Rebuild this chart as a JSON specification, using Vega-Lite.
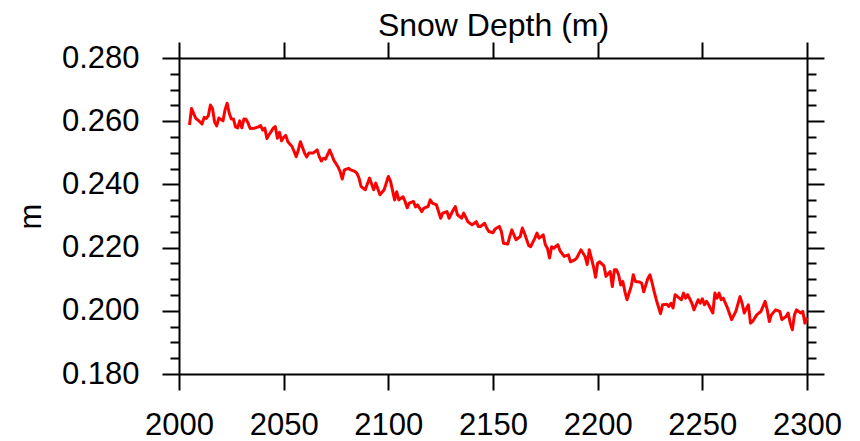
{
  "$schema": "https://vega.github.io/schema/vega-lite/v6.json",
  "width": 628,
  "height": 316,
  "autosize": {"type": "none"},
  "padding": {"left": 179, "top": 58, "right": 52, "bottom": 67},
  "background": "white",
  "config": {
    "view": {"stroke": null},
    "font": "Liberation Sans",
    "axis": {
      "grid": false,
      "domainColor": "black",
      "domainWidth": 2,
      "tickColor": "black",
      "tickWidth": 2,
      "labelColor": "black",
      "labelFont": "Liberation Sans",
      "labelFontSize": 31,
      "titleFont": "Liberation Sans",
      "titleFontSize": 31,
      "titleFontWeight": "normal",
      "titleColor": "black",
      "labelOverlap": false,
      "labelFlush": false
    }
  },
  "data": {
    "values": [
      {"year": 2005, "depth": 0.2588}, {"year": 2006, "depth": 0.2640}, {"year": 2008, "depth": 0.2609},
      {"year": 2009, "depth": 0.2604}, {"year": 2011, "depth": 0.2591}, {"year": 2012, "depth": 0.2612},
      {"year": 2013, "depth": 0.2609}, {"year": 2014, "depth": 0.2617}, {"year": 2015, "depth": 0.2651},
      {"year": 2016, "depth": 0.2640}, {"year": 2017, "depth": 0.2598}, {"year": 2018, "depth": 0.2585},
      {"year": 2019, "depth": 0.2610}, {"year": 2021, "depth": 0.2601}, {"year": 2022, "depth": 0.2636},
      {"year": 2023, "depth": 0.2657}, {"year": 2024, "depth": 0.2625}, {"year": 2025, "depth": 0.2607},
      {"year": 2026, "depth": 0.2607}, {"year": 2027, "depth": 0.2582}, {"year": 2028, "depth": 0.2579},
      {"year": 2029, "depth": 0.2601}, {"year": 2030, "depth": 0.2579}, {"year": 2031, "depth": 0.2607},
      {"year": 2032, "depth": 0.2606}, {"year": 2033, "depth": 0.2594}, {"year": 2034, "depth": 0.2577},
      {"year": 2036, "depth": 0.2578}, {"year": 2038, "depth": 0.2582}, {"year": 2039, "depth": 0.2586},
      {"year": 2040, "depth": 0.2572}, {"year": 2041, "depth": 0.2578}, {"year": 2042, "depth": 0.2545},
      {"year": 2043, "depth": 0.2557}, {"year": 2044, "depth": 0.2567}, {"year": 2045, "depth": 0.2578},
      {"year": 2046, "depth": 0.2583}, {"year": 2047, "depth": 0.2546}, {"year": 2048, "depth": 0.2565},
      {"year": 2049, "depth": 0.2538}, {"year": 2050, "depth": 0.2549}, {"year": 2051, "depth": 0.2555},
      {"year": 2052, "depth": 0.2535}, {"year": 2054, "depth": 0.2520}, {"year": 2055, "depth": 0.2504},
      {"year": 2056, "depth": 0.2488}, {"year": 2057, "depth": 0.2509}, {"year": 2058, "depth": 0.2535},
      {"year": 2060, "depth": 0.2499}, {"year": 2061, "depth": 0.2487}, {"year": 2062, "depth": 0.2499},
      {"year": 2064, "depth": 0.2499}, {"year": 2066, "depth": 0.2509}, {"year": 2067, "depth": 0.2488},
      {"year": 2068, "depth": 0.2474}, {"year": 2069, "depth": 0.2483}, {"year": 2070, "depth": 0.2480},
      {"year": 2072, "depth": 0.2509}, {"year": 2073, "depth": 0.2493}, {"year": 2074, "depth": 0.2476},
      {"year": 2076, "depth": 0.2455}, {"year": 2077, "depth": 0.2440}, {"year": 2078, "depth": 0.2417},
      {"year": 2079, "depth": 0.2446}, {"year": 2081, "depth": 0.2451}, {"year": 2082, "depth": 0.2446},
      {"year": 2084, "depth": 0.2441}, {"year": 2085, "depth": 0.2435}, {"year": 2086, "depth": 0.2420},
      {"year": 2087, "depth": 0.2393}, {"year": 2089, "depth": 0.2383}, {"year": 2091, "depth": 0.2420},
      {"year": 2093, "depth": 0.2383}, {"year": 2094, "depth": 0.2404}, {"year": 2096, "depth": 0.2367},
      {"year": 2098, "depth": 0.2383}, {"year": 2100, "depth": 0.2425}, {"year": 2101, "depth": 0.2411},
      {"year": 2103, "depth": 0.2351}, {"year": 2104, "depth": 0.2377}, {"year": 2105, "depth": 0.2351},
      {"year": 2107, "depth": 0.2361}, {"year": 2108, "depth": 0.2346}, {"year": 2109, "depth": 0.2326},
      {"year": 2110, "depth": 0.2341}, {"year": 2112, "depth": 0.2346}, {"year": 2113, "depth": 0.2329},
      {"year": 2114, "depth": 0.2335}, {"year": 2116, "depth": 0.2314}, {"year": 2117, "depth": 0.2325},
      {"year": 2119, "depth": 0.2330}, {"year": 2120, "depth": 0.2351}, {"year": 2121, "depth": 0.2341},
      {"year": 2123, "depth": 0.2335}, {"year": 2125, "depth": 0.2293}, {"year": 2126, "depth": 0.2309},
      {"year": 2128, "depth": 0.2314}, {"year": 2129, "depth": 0.2293}, {"year": 2131, "depth": 0.2319},
      {"year": 2132, "depth": 0.2330}, {"year": 2133, "depth": 0.2304}, {"year": 2135, "depth": 0.2293},
      {"year": 2136, "depth": 0.2309}, {"year": 2138, "depth": 0.2282}, {"year": 2140, "depth": 0.2272},
      {"year": 2142, "depth": 0.2282}, {"year": 2143, "depth": 0.2267}, {"year": 2144, "depth": 0.2267},
      {"year": 2146, "depth": 0.2277}, {"year": 2147, "depth": 0.2262}, {"year": 2148, "depth": 0.2251},
      {"year": 2150, "depth": 0.2247}, {"year": 2151, "depth": 0.2259}, {"year": 2153, "depth": 0.2267},
      {"year": 2154, "depth": 0.2251}, {"year": 2155, "depth": 0.2214}, {"year": 2157, "depth": 0.2211},
      {"year": 2158, "depth": 0.2235}, {"year": 2159, "depth": 0.2256}, {"year": 2160, "depth": 0.2240},
      {"year": 2161, "depth": 0.2225}, {"year": 2163, "depth": 0.2235}, {"year": 2164, "depth": 0.2262},
      {"year": 2165, "depth": 0.2246}, {"year": 2167, "depth": 0.2207}, {"year": 2168, "depth": 0.2203},
      {"year": 2170, "depth": 0.2230}, {"year": 2171, "depth": 0.2246}, {"year": 2172, "depth": 0.2230},
      {"year": 2174, "depth": 0.2240}, {"year": 2175, "depth": 0.2209}, {"year": 2176, "depth": 0.2198},
      {"year": 2177, "depth": 0.2167}, {"year": 2178, "depth": 0.2203}, {"year": 2179, "depth": 0.2198},
      {"year": 2181, "depth": 0.2209}, {"year": 2182, "depth": 0.2190}, {"year": 2184, "depth": 0.2172},
      {"year": 2186, "depth": 0.2177}, {"year": 2187, "depth": 0.2155}, {"year": 2189, "depth": 0.2161},
      {"year": 2190, "depth": 0.2167}, {"year": 2192, "depth": 0.2193}, {"year": 2194, "depth": 0.2172},
      {"year": 2195, "depth": 0.2146}, {"year": 2196, "depth": 0.2193}, {"year": 2198, "depth": 0.2140},
      {"year": 2199, "depth": 0.2106}, {"year": 2200, "depth": 0.2151}, {"year": 2201, "depth": 0.2155},
      {"year": 2203, "depth": 0.2142}, {"year": 2204, "depth": 0.2109}, {"year": 2206, "depth": 0.2124},
      {"year": 2207, "depth": 0.2077}, {"year": 2208, "depth": 0.2130}, {"year": 2209, "depth": 0.2130},
      {"year": 2210, "depth": 0.2114}, {"year": 2211, "depth": 0.2082}, {"year": 2212, "depth": 0.2093},
      {"year": 2213, "depth": 0.2061}, {"year": 2214, "depth": 0.2035}, {"year": 2216, "depth": 0.2077},
      {"year": 2217, "depth": 0.2114}, {"year": 2218, "depth": 0.2093}, {"year": 2220, "depth": 0.2091},
      {"year": 2221, "depth": 0.2088}, {"year": 2222, "depth": 0.2060}, {"year": 2224, "depth": 0.2103},
      {"year": 2225, "depth": 0.2114}, {"year": 2226, "depth": 0.2088}, {"year": 2227, "depth": 0.2061},
      {"year": 2228, "depth": 0.2035}, {"year": 2230, "depth": 0.1991}, {"year": 2231, "depth": 0.2019},
      {"year": 2233, "depth": 0.2021}, {"year": 2234, "depth": 0.2014}, {"year": 2235, "depth": 0.2024},
      {"year": 2236, "depth": 0.2009}, {"year": 2237, "depth": 0.2051}, {"year": 2239, "depth": 0.2040},
      {"year": 2240, "depth": 0.2035}, {"year": 2241, "depth": 0.2056}, {"year": 2242, "depth": 0.2040},
      {"year": 2243, "depth": 0.2051}, {"year": 2245, "depth": 0.2024}, {"year": 2246, "depth": 0.2003},
      {"year": 2248, "depth": 0.2035}, {"year": 2249, "depth": 0.2024}, {"year": 2250, "depth": 0.2038},
      {"year": 2251, "depth": 0.2019}, {"year": 2252, "depth": 0.2030}, {"year": 2253, "depth": 0.2019},
      {"year": 2255, "depth": 0.1993}, {"year": 2256, "depth": 0.2056}, {"year": 2257, "depth": 0.2040},
      {"year": 2258, "depth": 0.2056}, {"year": 2259, "depth": 0.2035}, {"year": 2260, "depth": 0.2040},
      {"year": 2261, "depth": 0.2024}, {"year": 2262, "depth": 0.2009}, {"year": 2264, "depth": 0.1972},
      {"year": 2266, "depth": 0.1998}, {"year": 2268, "depth": 0.2045}, {"year": 2269, "depth": 0.2024},
      {"year": 2270, "depth": 0.1993}, {"year": 2272, "depth": 0.2019}, {"year": 2273, "depth": 0.1961},
      {"year": 2274, "depth": 0.1966}, {"year": 2276, "depth": 0.1987}, {"year": 2277, "depth": 0.1993},
      {"year": 2278, "depth": 0.1998}, {"year": 2280, "depth": 0.2030}, {"year": 2281, "depth": 0.2003},
      {"year": 2282, "depth": 0.1966}, {"year": 2283, "depth": 0.1987}, {"year": 2285, "depth": 0.2003},
      {"year": 2287, "depth": 0.1998}, {"year": 2288, "depth": 0.1972}, {"year": 2290, "depth": 0.1982},
      {"year": 2291, "depth": 0.1993}, {"year": 2292, "depth": 0.1961}, {"year": 2293, "depth": 0.1940},
      {"year": 2294, "depth": 0.1987}, {"year": 2295, "depth": 0.2003}, {"year": 2297, "depth": 0.1993},
      {"year": 2298, "depth": 0.1998}, {"year": 2299, "depth": 0.1961}, {"year": 2300, "depth": 0.1978}
    ]
  },
  "layer": [
    {
      "mark": {"type": "line", "color": "#ff0000", "strokeWidth": 3, "strokeJoin": "round"},
      "encoding": {
        "x": {
          "field": "year", "type": "quantitative",
          "scale": {"domain": [2000, 2300], "nice": false, "zero": false},
          "axis": {
            "orient": "bottom", "title": null,
            "values": [2000, 2050, 2100, 2150, 2200, 2250, 2300],
            "format": "d", "tickSize": 16, "labelPadding": 44, "labelBaseline": "alphabetic"
          }
        },
        "y": {
          "field": "depth", "type": "quantitative",
          "scale": {"domain": [0.18, 0.28], "nice": false, "zero": false},
          "axis": {
            "orient": "left",
            "values": [0.18, 0.185, 0.19, 0.195, 0.2, 0.205, 0.21, 0.215, 0.22, 0.225, 0.23, 0.235, 0.24, 0.245, 0.25, 0.255, 0.26, 0.265, 0.27, 0.275, 0.28],
            "tickSize": {"condition": {"test": "abs(datum.value*50 - round(datum.value*50)) < 0.01", "value": 17}, "value": 9},
            "labelExpr": "abs(datum.value*50 - round(datum.value*50)) < 0.01 ? format(datum.value, '.3f') : ''",
            "labelPadding": 23,
            "title": "m",
            "titleX": -139, "titleY": 158, "titleAngle": -90, "titleAlign": "center", "titleBaseline": "alphabetic"
          }
        }
      }
    },
    {
      "mark": {"type": "point", "opacity": 0},
      "encoding": {
        "x": {
          "field": "year", "type": "quantitative",
          "scale": {"domain": [2000, 2300], "nice": false, "zero": false},
          "axis": {
            "orient": "top",
            "values": [2000, 2050, 2100, 2150, 2200, 2250, 2300],
            "format": "d", "tickSize": 16, "labelPadding": 43, "labelBaseline": "alphabetic",
            "title": "Snow Depth (m)", "titleFontSize": 32, "titleY": -23, "titleBaseline": "alphabetic", "titleAlign": "center"
          }
        },
        "y": {
          "field": "depth", "type": "quantitative",
          "scale": {"domain": [0.18, 0.28], "nice": false, "zero": false},
          "axis": {
            "orient": "right",
            "values": [0.18, 0.185, 0.19, 0.195, 0.2, 0.205, 0.21, 0.215, 0.22, 0.225, 0.23, 0.235, 0.24, 0.245, 0.25, 0.255, 0.26, 0.265, 0.27, 0.275, 0.28],
            "tickSize": {"condition": {"test": "abs(datum.value*50 - round(datum.value*50)) < 0.01", "value": 17}, "value": 9},
            "labels": false,
            "title": null
          }
        }
      }
    }
  ],
  "resolve": {"axis": {"x": "independent", "y": "independent"}}
}
